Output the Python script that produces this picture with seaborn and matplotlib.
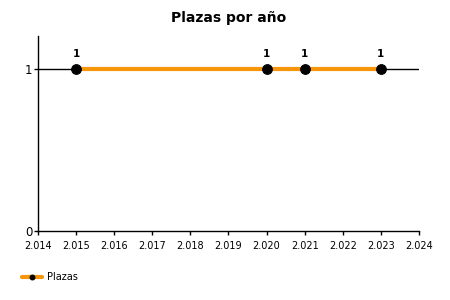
import numpy as np
import pandas as pd
import seaborn as sns
import matplotlib.pyplot as plt
from matplotlib.ticker import FuncFormatter

years = [2015, 2020, 2021, 2023]
plazas = [1, 1, 1, 1]
df = pd.DataFrame({'Año': years, 'Plazas': plazas})

sns.set_style('white')
plt.rcParams['font.family'] = ['DejaVu Sans']
plt.rcParams['text.color'] = 'black'
plt.rcParams['xtick.color'] = 'black'
plt.rcParams['ytick.color'] = 'black'

fig = plt.figure(figsize=(4.5, 3), dpi=100)
ax = fig.add_axes([0.0844, 0.23, 0.8467, 0.65])

ax.axhline(1, color='black', lw=1, zorder=1)
sns.lineplot(x='Año', y='Plazas', data=df, ax=ax, color='#F7960A', lw=3,
             marker='o', markersize=7, markerfacecolor='black',
             markeredgecolor='black', label='Plazas', zorder=3)

for x, y in zip(years, plazas):
    ax.annotate(str(y), (x, y), xytext=(0, 7), textcoords='offset points',
                ha='center', va='bottom', fontsize=7.5, fontweight='bold')

ax.set_xlim(2014, 2024)
ax.set_ylim(0, 1.2)
ax.set_xticks(range(2014, 2025))
ax.set_yticks([0, 1])
ax.xaxis.set_major_formatter(FuncFormatter(lambda v, p: f'{int(v):,}'.replace(',', '.')))
ax.tick_params(axis='both', labelsize=7, length=3, width=1, color='black',
               direction='out', bottom=True, left=True)
ax.tick_params(axis='x', pad=4)
ax.tick_params(axis='y', labelsize=8.5, pad=1)
ax.set_xlabel('')
ax.set_ylabel('')
for side in ['top', 'right']:
    ax.spines[side].set_visible(False)
for side in ['left', 'bottom']:
    ax.spines[side].set_color('black')
    ax.spines[side].set_linewidth(1)

ax.set_title('Plazas por año', fontsize=10, fontweight='bold', pad=10)

ax.get_legend().remove()
h, l = ax.get_legend_handles_labels()
fig.legend(h, l, loc='center left', bbox_to_anchor=(0.03, 0.075), frameon=False,
           fontsize=7, handlelength=2, handletextpad=0.5, markerscale=0.5)

fig.savefig('out.png', dpi=100)
